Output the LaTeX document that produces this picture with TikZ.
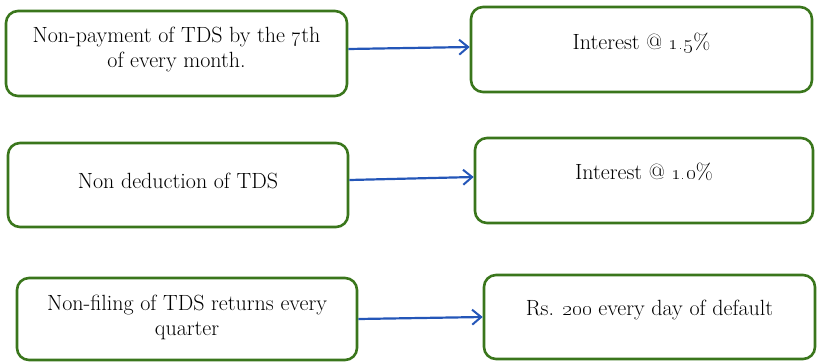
\documentclass[tikz,border=0pt]{standalone}
\usetikzlibrary{arrows.meta}
\definecolor{green}{RGB}{58,118,28}
\definecolor{blue}{RGB}{36,86,184}

\begin{document}
\begin{tikzpicture}[x=1pt,y=-1pt,
	box/.style={draw=green,line width=2.6pt,rounded corners=12pt,align=center,inner sep=0pt,
		font=\fontsize{22}{25}\selectfont},
	lift/.style 2 args={text height=#1,text depth=#2},
	conn/.style={draw=blue,line width=2.2pt,-{Straight Barb[length=9pt,width=15pt,line width=2pt]}}]
	\useasboundingbox (0,0) rectangle (818,361);

	% left column
	\node[box,lift={40pt}{12pt},minimum width=341pt,minimum height=85pt] (nonpay) at (176.5,53.5) {Non-payment of TDS by the \oldstylenums{7}th\\of every month.};
	\node[box,lift={15pt}{8pt},minimum width=340pt,minimum height=84pt] (noded) at (178,185) {Non deduction of TDS};
	\node[box,lift={40pt}{8pt},minimum width=340pt,minimum height=82pt] (nofile) at (187,319) {Non-filing of TDS returns every\\quarter};

	% right column
	\node[box,lift={15pt}{14.6pt},minimum width=341pt,minimum height=85pt] (int15) at (641.5,49.5) {Interest @ \oldstylenums{1.5}\%};
	\node[box,lift={15pt}{17pt},minimum width=338pt,minimum height=85pt] (int10) at (644,180.5) {Interest @ \oldstylenums{1.0}\%};
	\node[box,lift={15pt}{19pt},minimum width=331pt,minimum height=84pt] (fine) at (649.5,317) {Rs. \oldstylenums{200} every day of default};

	% connectors
	\draw[conn] ([yshift=4.5pt]nonpay.east) -- ([yshift=2.5pt]int15.west);
	\draw[conn] ([yshift=5pt]noded.east) -- ([yshift=3.5pt]int10.west);
	\draw[conn] (nofile.east) -- (fine.west);
\end{tikzpicture}
\end{document}
